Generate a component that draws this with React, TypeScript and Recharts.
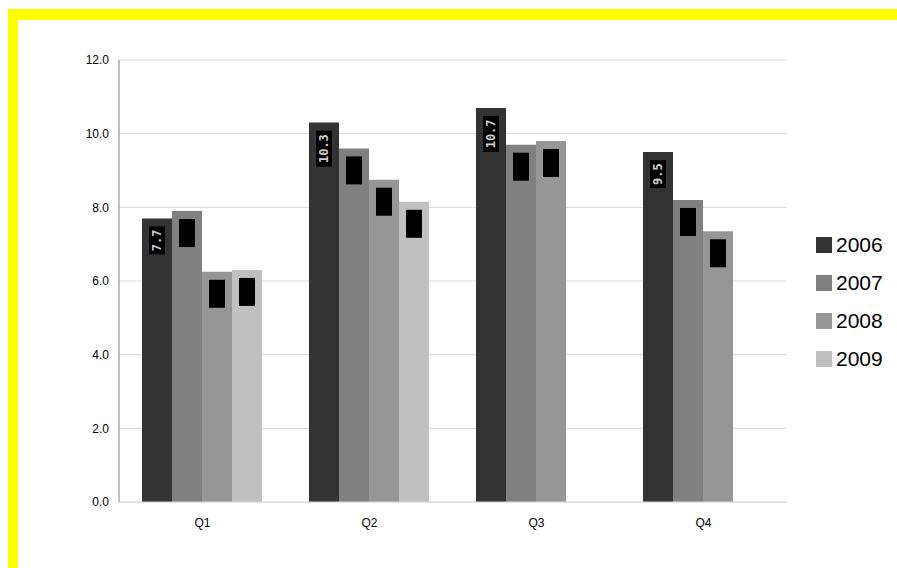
import React from 'react';
import { BarChart, Bar, XAxis, YAxis, CartesianGrid, LabelList } from 'recharts';

const quarters = ['Q1', 'Q2', 'Q3', 'Q4'];
const years = ['2006', '2007', '2008', '2009'];
const values2006 = [7.7, 10.3, 10.7, 9.5];
const values2007 = [7.9, 9.6, 9.7, 8.2];
const values2008 = [6.25, 8.75, 9.8, 7.35];
const values2009: (number | null)[] = [6.3, 8.15, null, null];
const yTicks = [0, 2, 4, 6, 8, 10, 12];

const colors = ['#333333', '#808080', '#969696', '#c0c0c0'];
const seriesValues = [values2006, values2007, values2008, values2009];

const data = quarters.map((q, i) => {
  const row: Record<string, string | number | null> = { quarter: q };
  years.forEach((y, s) => {
    row[y] = seriesValues[s][i];
  });
  return row;
});

const FONT = '"Liberation Sans", Arial, sans-serif';

const makeLabel = (textColor: string) => (props: any) => {
  const { x, y, width, value } = props;
  if (value == null) return null;
  const text = Number(value).toFixed(1);
  const h = text.length * 8 + 4;
  const cx = x + width / 2;
  const top = y + 8;
  const cy = top + h / 2;
  return (
    <g>
      <rect x={cx - 8} y={top} width={16} height={h} fill="#000" />
      <text
        x={cx}
        y={cy}
        fill={textColor}
        fontSize={12}
        fontWeight="bold"
        fontFamily='"DejaVu Sans Mono", monospace'
        textAnchor="middle"
        dominantBaseline="central"
        transform={`rotate(-90 ${cx} ${cy})`}
      >
        {text}
      </text>
    </g>
  );
};

export default function App() {
  return (
    <div>
      <div
        style={{
          position: 'fixed',
          left: 8,
          top: 9,
          width: 889,
          height: 559,
          borderTop: '11px solid #ffff00',
          borderLeft: '10px solid #ffff00',
          boxSizing: 'border-box',
          background: '#fff',
        }}
      />
      <div style={{ position: 'fixed', left: 0, top: 0, width: 897, height: 568 }}>
        <BarChart
          width={897}
          height={568}
          data={data}
          margin={{ top: 60, right: 110, bottom: 36, left: 0 }}
          barCategoryGap={23}
          barGap={0}
        >
          <CartesianGrid vertical={false} stroke="#d9d9d9" />
          <XAxis
            dataKey="quarter"
            height={30}
            axisLine={{ stroke: '#d9d9d9' }}
            tickLine={false}
            tickMargin={10}
            tick={{ fill: '#000', fontSize: 12, fontFamily: FONT }}
          />
          <YAxis
            width={119}
            domain={[0, 12]}
            ticks={yTicks}
            interval={0}
            axisLine={{ stroke: '#808080' }}
            tickLine={false}
            tickMargin={4}
            tickFormatter={(v: number) => v.toFixed(1)}
            tick={{ fill: '#000', fontSize: 12, fontFamily: FONT }}
          />
          {years.map((y, s) => (
            <Bar key={y} dataKey={y} fill={colors[s]} isAnimationActive={false}>
              <LabelList dataKey={y} content={makeLabel(s === 0 ? '#cfcfcf' : '#000')} />
            </Bar>
          ))}
        </BarChart>
        <div style={{ position: 'absolute', left: 816, top: 226 }}>
          {years.map((y, s) => (
            <div
              key={y}
              style={{ display: 'flex', alignItems: 'center', height: 38, fontFamily: FONT, fontSize: 21, color: '#000' }}
            >
              <div style={{ width: 16, height: 16, background: colors[s], marginRight: 4 }} />
              <span>{y}</span>
            </div>
          ))}
        </div>
      </div>
    </div>
  );
}
